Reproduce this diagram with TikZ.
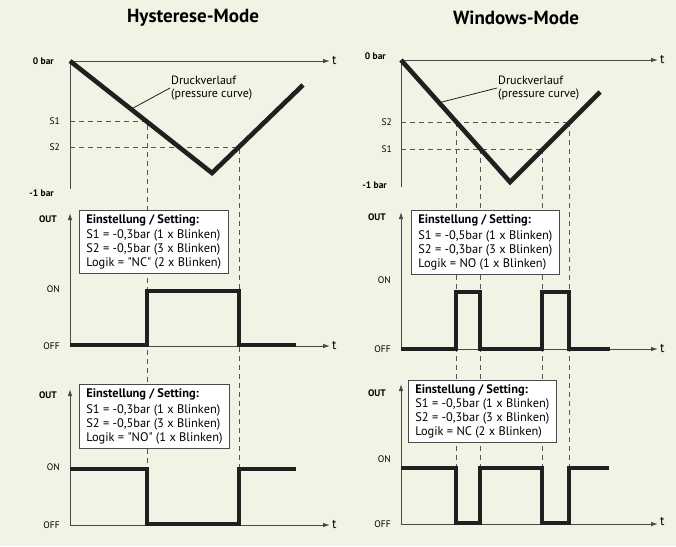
\documentclass[tikz,border=0pt]{standalone}
\usepackage{fontspec}
\setmainfont{PT Sans}
\usetikzlibrary{arrows.meta,calc}
\definecolor{paper}{HTML}{F0F4E4}
\definecolor{ink}{HTML}{231F20}
\definecolor{axisgray}{HTML}{4A4A4A}
\definecolor{dashgray}{HTML}{555555}

\begin{document}
\begin{tikzpicture}[x=1pt,y=-1pt,
  axis/.style={draw=axisgray, line width=0.9pt, -{Latex[length=7pt,width=4.5pt]}},
  curve/.style={draw=ink, line width=4.6pt, line join=miter},
  guide/.style={draw=dashgray, line width=0.8pt, dash pattern=on 5pt off 4pt},
  leader/.style={draw=ink, line width=0.8pt},
  setting/.style={draw=axisgray, fill=white, line width=0.8pt, inner xsep=7pt, inner ysep=4.5pt, align=left, anchor=north west, font=\fontsize{12.4}{13.8}\selectfont},
  modetitle/.style={font=\bfseries\fontsize{19}{21}\selectfont},
  barlabel/.style={font=\bfseries\fontsize{9.5}{10}\selectfont, anchor=east, inner sep=1pt},
  levellabel/.style={font=\fontsize{9.5}{10}\selectfont, anchor=east, inner sep=1pt},
  tlabel/.style={font=\fontsize{13}{14}\selectfont, anchor=west, inner sep=2pt},
  note/.style={font=\fontsize{12}{12.5}\selectfont, align=left, anchor=west, inner sep=1pt}]

% background
\fill[paper] (0,0) rectangle (676,546);

% ---------------- Hysterese-Mode ----------------
\node[modetitle] (htitle) at (193,18) {Hysterese-Mode};

\coordinate (hO) at (70,61);
\coordinate (hT) at (330,61);
\coordinate (hB) at (70,189);
\coordinate (hMin) at (212,173);
\coordinate (hEnd) at (303,85);
\coordinate (hA) at (147,121);
\coordinate (hC) at (239,147);
% signal levels
\coordinate (hmOrig) at (70,346);
\coordinate (hmOn) at (70,291);
\coordinate (hmOff) at (70,345);
\coordinate (hbOrig) at (70,525);
\coordinate (hbOn) at (70,469);
\coordinate (hbOff) at (70,524);

\draw[guide] (hO |- hA) -- (hA) -- (hA |- hbOn);
\draw[guide] (hO |- hC) -- (hC) -- (hC |- hbOn);

\draw[axis] (hB) -- (hO) -- (hT);
\node[tlabel] (ht1) at (hT) {t};
\node[barlabel] (h0bar) at (55,61) {0 bar};
\node[barlabel] (h1bar) at (55,193) {-1 bar};
\node[levellabel] (hS1) at (61,121) {S1};
\node[levellabel] (hS2) at (61,147) {S2};

\node[note] (hnote) at (170,88) {Druckverlauf\\(pressure curve)};
\draw[leader] (hnote.west) -- ($(hO)!0.43!(hMin)$);
\draw[curve] (hO) -- (hMin) -- (hEnd);

% output NC
\draw[axis] (hmOrig) -- (70,213);
\draw[axis] (hmOrig) -- (330,346);
\node[tlabel] (ht2) at (330,346) {t};
\node[barlabel] (hout1) at (58,219) {OUT};
\node[levellabel] (hon1) at (61,289) {ON};
\node[levellabel] (hoff1) at (61,346) {OFF};
\node[setting] (hset1) at (79,210) {\textbf{Einstellung / Setting:}\\[1pt]
  S1 = -0,3bar (1 x Blinken)\\
  S2 = -0,5bar (3 x Blinken)\\
  Logik = \textquotedbl NC\textquotedbl{} (2 x Blinken)};
\draw[curve] (hmOff) -- (hmOff -| hA) -- (hmOn -| hA) -- (hmOn -| hC) -- (hmOff -| hC) -- (296,345);

% output NO
\draw[axis] (hbOrig) -- (70,389);
\draw[axis] (hbOrig) -- (330,525);
\node[tlabel] (ht3) at (330,525) {t};
\node[barlabel] (hout2) at (58,395) {OUT};
\node[levellabel] (hon2) at (61,467) {ON};
\node[levellabel] (hoff2) at (61,525) {OFF};
\node[setting] (hset2) at (79,384) {\textbf{Einstellung / Setting:}\\[2pt]
  S1 = -0,3bar (1 x Blinken)\\
  S2 = -0,5bar (3 x Blinken)\\
  Logik = \textquotedbl NO\textquotedbl{} (1 x Blinken)};
\draw[curve] (hbOn) -- (hbOn -| hA) -- (hbOff -| hA) -- (hbOff -| hC) -- (hbOn -| hC) -- (296,469);

% ---------------- Windows-Mode ----------------
\node[modetitle] (wtitle) at (516,18) {Windows-Mode};

\coordinate (wO) at (401,60);
\coordinate (wT) at (658,60);
\coordinate (wB) at (401,187);
\coordinate (wMin) at (510,182);
\coordinate (wEnd) at (600,92);
\coordinate (wA) at (456,122);
\coordinate (wE) at (480,149);
\coordinate (wC) at (542,149);
\coordinate (wD) at (569,122);
% signal levels
\coordinate (wmOrig) at (401,349);
\coordinate (wmOn) at (401,292);
\coordinate (wmOff) at (401,349);
\coordinate (wbOrig) at (401,524);
\coordinate (wbOn) at (401,468);
\coordinate (wbOff) at (401,523);

\draw[guide] (wO |- wA) -- (wD);
\draw[guide] (wO |- wE) -- (wC);
\foreach \p in {wA,wE,wC,wD}
  \draw[guide] (\p) -- (\p |- wbOn);

\draw[axis] (wB) -- (wO) -- (wT);
\node[tlabel] (wt1) at (wT) {t};
\node[barlabel] (w0bar) at (387,56) {0 bar};
\node[barlabel] (w1bar) at (388,185) {-1 bar};
\node[levellabel] (wS2) at (393,122) {S2};
\node[levellabel] (wS1) at (393,149) {S1};

\node[note] (wnote) at (497,88) {Druckverlauf\\(pressure curve)};
\draw[leader] (wnote.west) -- ($(wO)!0.35!(wMin)$);
\draw[curve] (wO) -- (wMin) -- (wEnd);

% output NO
\draw[axis] (wmOrig) -- (401,212);
\draw[axis] (wmOrig) -- (658,349);
\node[tlabel] (wt2) at (658,349) {t};
\node[barlabel] (wout1) at (387,217) {OUT};
\node[levellabel] (won1) at (392,280) {ON};
\node[levellabel] (woff1) at (392,349) {OFF};
\node[setting] (wset1) at (411,210) {\textbf{Einstellung / Setting:}\\[2pt]
  S1 = -0,5bar (1 x Blinken)\\
  S2 = -0,3bar (3 x Blinken)\\
  Logik = NO (1 x Blinken)};
\draw[curve] (wmOff) -- (wmOff -| wA) -- (wmOn -| wA) -- (wmOn -| wE) -- (wmOff -| wE)
  -- (wmOff -| wC) -- (wmOn -| wC) -- (wmOn -| wD) -- (wmOff -| wD) -- (610,349);

% output NC
\draw[axis] (wbOrig) -- (401,384);
\draw[axis] (wbOrig) -- (658,524);
\node[tlabel] (wt3) at (658,522) {t};
\node[barlabel] (wout2) at (387,393) {OUT};
\node[levellabel] (won2) at (392,459) {ON};
\node[levellabel] (woff2) at (392,524) {OFF};
\node[setting] (wset2) at (408,380) {\textbf{Einstellung / Setting:}\\[0pt]
  S1 = -0,5bar (1 x Blinken)\\
  S2 = -0,3bar (3 x Blinken)\\
  Logik = NC (2 x Blinken)};
\draw[curve] (wbOn) -- (wbOn -| wA) -- (wbOff -| wA) -- (wbOff -| wE) -- (wbOn -| wE)
  -- (wbOn -| wC) -- (wbOff -| wC) -- (wbOff -| wD) -- (wbOn -| wD) -- (609,468);
\end{tikzpicture}
\end{document}
